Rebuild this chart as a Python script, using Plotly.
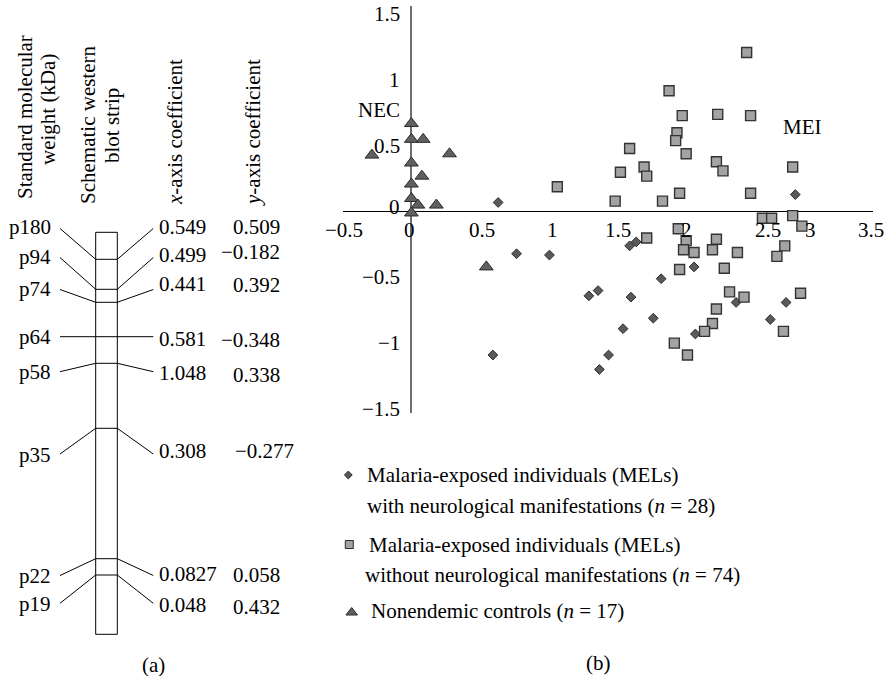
import plotly.graph_objects as go

W, H = 885, 676
FONT = "Liberation Serif"
FS = 21

# ---------------- panel (a) values ----------------
proteins = ["p180", "p94", "p74", "p64", "p58", "p35", "p22", "p19"]
x_coef = ["0.549", "0.499", "0.441", "0.581", "1.048", "0.308", "0.0827", "0.048"]
y_coef = ["0.509", "\u22120.182", "0.392", "\u22120.348", "0.338", "\u22120.277", "0.058", "0.432"]
headers = [["Standard molecular", "weight (kDa)"],
           ["Schematic western", "blot strip"],
           ["<i>x</i>-axis coefficient"],
           ["<i>y</i>-axis coefficient"]]

# ---------------- panel (b) values ----------------
mel_neuro_x = [0.66, 0.80, 1.05, 1.66, 1.71, 1.35, 1.42, 1.67, 1.84, 1.61,
               0.62, 1.50, 1.43, 1.90, 2.15, 2.16, 2.47, 2.85, 2.73, 2.92]
mel_neuro_y = [0.07, -0.32, -0.33, -0.26, -0.23, -0.64, -0.60, -0.65, -0.81, -0.89,
               -1.09, -1.09, -1.20, -0.51, -0.42, -0.93, -0.69, -0.69, -0.82, 0.13]

mel_free_x = [2.55, 1.96, 2.06, 2.33, 2.58, 2.02, 2.01, 1.66, 2.09, 1.77,
              1.79, 1.59, 2.32, 2.37, 2.90, 2.04, 1.55, 1.91, 2.58, 2.67,
              2.74, 2.90, 2.97, 2.03, 1.79, 2.09, 2.07, 2.15, 2.32, 2.29,
              2.48, 2.84, 2.78, 2.04, 2.38, 2.42, 2.53, 2.96, 1.11, 2.32,
              2.29, 2.23, 2.00, 2.10, 2.83]
mel_free_y = [1.21, 0.92, 0.73, 0.74, 0.73, 0.60, 0.54, 0.48, 0.44, 0.34,
              0.27, 0.30, 0.38, 0.31, 0.34, 0.14, 0.08, 0.08, 0.14, -0.05,
              -0.05, -0.03, -0.11, -0.13, -0.20, -0.22, -0.29, -0.31, -0.21, -0.29,
              -0.31, -0.26, -0.34, -0.44, -0.43, -0.61, -0.65, -0.62, 0.19, -0.74,
              -0.85, -0.91, -1.00, -1.09, -0.91]

nec_x = [0.00, 0.00, 0.09, -0.30, 0.29, 0.00, 0.08, 0.00, 0.00, 0.05, 0.19, 0.00, 0.57]
nec_y = [0.67, 0.55, 0.55, 0.43, 0.44, 0.37, 0.27, 0.21, 0.10, 0.05, 0.05, -0.01, -0.42]

x_ticks = [-0.5, 0, 0.5, 1, 1.5, 2, 2.5, 3, 3.5]
x_tick_text = ["\u22120.5", "0", "0.5", "1", "1.5", "2", "2.5", "3", "3.5"]
y_ticks = [1.5, 1, 0.5, 0, -0.5, -1, -1.5]
y_tick_text = ["1.5", "1", "0.5", "0", "\u22120.5", "\u22121", "\u22121.5"]

legend_lines = [["Malaria-exposed individuals (MELs)",
                 "with neurological manifestations (<i>n</i> = 28)"],
                ["Malaria-exposed individuals (MELs)",
                 "without neurological manifestations (<i>n</i> = 74)"],
                ["Nonendemic controls (<i>n</i> = 17)"]]

# ---------------- layout geometry (pixels) ----------------
band_px = [259.3, 289.3, 302.3, 336.7, 363.3, 428.3, 558.7, 575.0]
leader_px = [228.5, 257.5, 289.5, 336.7, 371.7, 454.0, 575.5, 603.3]
prot_lab_px = [227, 257, 289, 337, 372, 455, 576, 604]
xc_lab_px = [227, 255, 284, 339, 373, 451, 574, 605]
yc_lab_px = [227, 252, 285, 340, 375, 451, 575, 607]
yc_right_px = [281.5, 281.5, 281.5, 281.5, 281.5, 295.5, 281.5, 281.5]
strip_l, strip_r, strip_t, strip_b = 95.7, 117.3, 232.3, 634.3
header_pos = [[(25, 117), (48, 110)], [(88, 125), (112, 126)], [(175, 132)], [(253, 133)]]
x_tick_shift = [-1.6, -1.5, 5.3, 9.7, 9.8, 11.9, 28.0, 5.1, -0.8]

fig = go.Figure()

fig.add_trace(go.Scatter(
    x=mel_neuro_x, y=mel_neuro_y, mode="markers", showlegend=False, hoverinfo="skip",
    marker=dict(symbol="diamond", size=7.5, color="#5a5a5a", line=dict(color="#2b2b2b", width=1))))
fig.add_trace(go.Scatter(
    x=mel_free_x, y=mel_free_y, mode="markers", showlegend=False, hoverinfo="skip",
    marker=dict(symbol="square", size=10, color="#a3a3a3", line=dict(color="#333333", width=1.4))))
fig.add_trace(go.Scatter(
    x=nec_x, y=nec_y, mode="markers", showlegend=False, hoverinfo="skip",
    marker=dict(symbol="triangle-up", size=12, color="#606060", line=dict(color="#2b2b2b", width=1))))

# legend symbols on a pixel overlay axis
leg_sym = ["diamond", "square", "triangle-up"]
leg_size = [6, 8, 10]
leg_col = ["#5a5a5a", "#a3a3a3", "#606060"]
leg_xy = [(348.3, 475), (349.3, 544.5), (351.7, 612.5)]
for s, sz, c, (lx, ly) in zip(leg_sym, leg_size, leg_col, leg_xy):
    fig.add_trace(go.Scatter(
        x=[lx], y=[ly], xaxis="x2", yaxis="y2", mode="markers", showlegend=False,
        hoverinfo="skip", marker=dict(symbol=s, size=sz, color=c, line=dict(color="#2b2b2b", width=1))))

shapes = []
ann = []
txt = dict(family=FONT, size=FS, color="black")


def line(x0, y0, x1, y1, w=1, c="black"):
    shapes.append(dict(type="line", xref="x2", yref="y2", x0=x0, y0=y0, x1=x1, y1=y1,
                       line=dict(color=c, width=w)))


def label(x, y, t, xa="center", ya="middle", angle=0, ref=("x2", "y2"), **kw):
    ann.append(dict(x=x, y=y, xref=ref[0], yref=ref[1], text=t, showarrow=False,
                    xanchor=xa, yanchor=ya, textangle=angle, font=txt, **kw))


# strip
shapes.append(dict(type="rect", xref="x2", yref="y2", x0=strip_l, x1=strip_r,
                   y0=strip_t, y1=strip_b, line=dict(color="black", width=1)))
for i, p in enumerate(proteins):
    b, ld = band_px[i], leader_px[i]
    line(strip_l, b, strip_r, b)
    line(60, ld, strip_l, b)
    line(strip_r, b, 153.3, ld)
    label(52.5, prot_lab_px[i], p, xa="right")
    label(156.5, xc_lab_px[i], x_coef[i], xa="left")
    label(yc_right_px[i], yc_lab_px[i], y_coef[i], xa="right")

for lines_, pos in zip(headers, header_pos):
    for t, (hx, hy) in zip(lines_, pos):
        label(hx, hy, t, angle=-90)

label(153, 665, "(a)")
label(598, 663, "(b)")

# legend text
leg_text_pos = [[(365, 475), (365, 506)], [(367, 545), (363, 575)], [(369, 611)]]
for lines_, pos in zip(legend_lines, leg_text_pos):
    for t, (tx, ty) in zip(lines_, pos):
        label(tx, ty, t, xa="left")

# axis tick labels of panel (b)
for v, t, sh in zip(x_ticks, x_tick_text, x_tick_shift):
    label(v, 0, t, ref=("x", "y"), xshift=sh, yshift=-18.5)
for v, t in zip(y_ticks, y_tick_text):
    label(0, v, t, xa="right", ref=("x", "y"), xshift=-9, yshift=(5 if v == 0 else 0))
label(-0.247, 0.773, "NEC", ref=("x", "y"))
label(2.978, 0.644, "MEI", ref=("x", "y"))

fig.update_layout(
    width=W, height=H, margin=dict(l=0, r=0, t=0, b=0),
    paper_bgcolor="white", plot_bgcolor="rgba(0,0,0,0)",
    font=txt, showlegend=False,
    xaxis=dict(domain=[343 / W, 873 / W], range=[-0.520, 3.511], showgrid=False,
               showticklabels=False, ticks="", showline=False,
               zeroline=True, zerolinecolor="#6e6e6e", zerolinewidth=2, fixedrange=True),
    yaxis=dict(domain=[(H - 413) / H, (H - 6) / H], range=[-1.531, 1.564], showgrid=False,
               showticklabels=False, ticks="", showline=False,
               zeroline=True, zerolinecolor="black", zerolinewidth=1.2, fixedrange=True),
    xaxis2=dict(domain=[0, 1], range=[0, W], anchor="y2", visible=False, fixedrange=True),
    yaxis2=dict(domain=[0, 1], range=[H, 0], anchor="x2", visible=False, fixedrange=True),
    shapes=shapes, annotations=ann,
)

fig.write_html("out.html", config={"displayModeBar": False},
               post_script="document.body.style.margin='0px';")
